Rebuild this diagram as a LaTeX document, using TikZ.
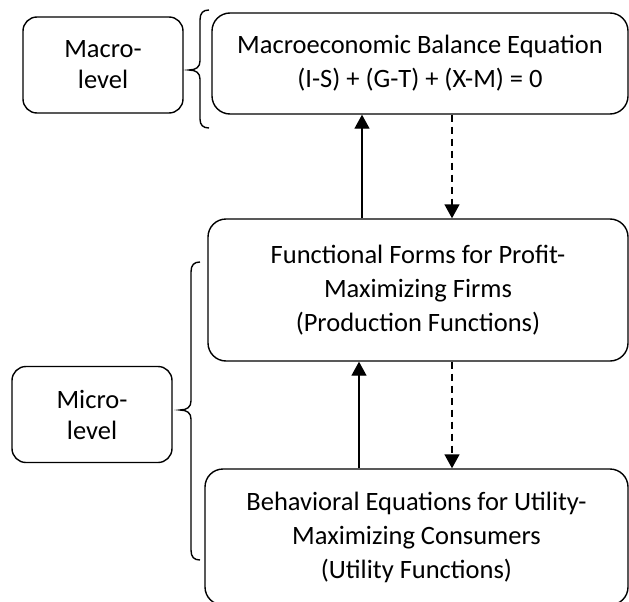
\documentclass[tikz,border=0pt]{standalone}
\usepackage{fontspec}
\setmainfont{Carlito}
\usetikzlibrary{arrows.meta}
\tikzset{
  box/.style={draw, line width=1.4pt, rounded corners=18pt, align=center, inner sep=0pt,
    font=\fontsize{26.5}{34}\selectfont},
  sidebox/.style={draw, line width=1.4pt, rounded corners=14pt, align=center, inner sep=0pt,
    minimum width=160pt, minimum height=96pt, font=\fontsize{26.5}{31}\selectfont},
  uparrow/.style={line width=1.4pt, -{Triangle[length=14pt,width=15pt]}},
  downarrow/.style={line width=1.4pt, dash pattern=on 7pt off 5pt, -{Triangle[length=14pt,width=15pt]}},
  bracestyle/.style={line width=1.4pt}
}
\begin{document}
\begin{tikzpicture}[x=1pt,y=1pt]
\clip (0,0) rectangle (629,-602);
\fill[white] (0,0) rectangle (629,-602);
% boxes
\node[box, minimum width=416pt, minimum height=101pt] (top) at (420,-63.5)
  {Macroeconomic Balance Equation\\(I-S) + (G-T) + (X-M) = 0};
\node[box, minimum width=420pt, minimum height=142pt] (mid) at (418,-290)
  {Functional Forms for Profit-\\Maximizing Firms\\(Production Functions)};
\node[box, minimum width=423pt, minimum height=136pt] (bot) at (416.5,-537)
  {Behavioral Equations for Utility-\\Maximizing Consumers\\(Utility Functions)};
\node[sidebox] (macro) at (103,-65) {Macro-\\level};
\node[sidebox] (micro) at (92,-414.5) {Micro-\\level};
% arrow x positions
\coordinate (xa) at (362,0);
\coordinate (xb) at (452,0);
\coordinate (xc) at (359,0);
\draw[uparrow] (mid.north -| xa) -- (top.south -| xa);
\draw[downarrow] (top.south -| xb) -- (mid.north -| xb);
\draw[uparrow] (bot.north -| xc) -- (mid.south -| xc);
\draw[downarrow] (mid.south -| xb) -- (bot.north -| xb);
% braces
\draw[bracestyle] (209,-10) .. controls (203,-10) and (200,-13) .. (200,-20) -- (200,-61)
  .. controls (200,-67) and (196,-70) .. (189,-70)
  .. controls (196,-70) and (200,-73) .. (200,-79) -- (200,-119)
  .. controls (200,-125) and (203,-128) .. (209,-128);
\draw[bracestyle] (200,-262) .. controls (194,-262) and (191,-265) .. (191,-272) -- (191,-401)
  .. controls (191,-407) and (187,-410) .. (180,-410)
  .. controls (187,-410) and (191,-413) .. (191,-419) -- (191,-550)
  .. controls (191,-557) and (194,-560) .. (200,-560);
\end{tikzpicture}
\end{document}
